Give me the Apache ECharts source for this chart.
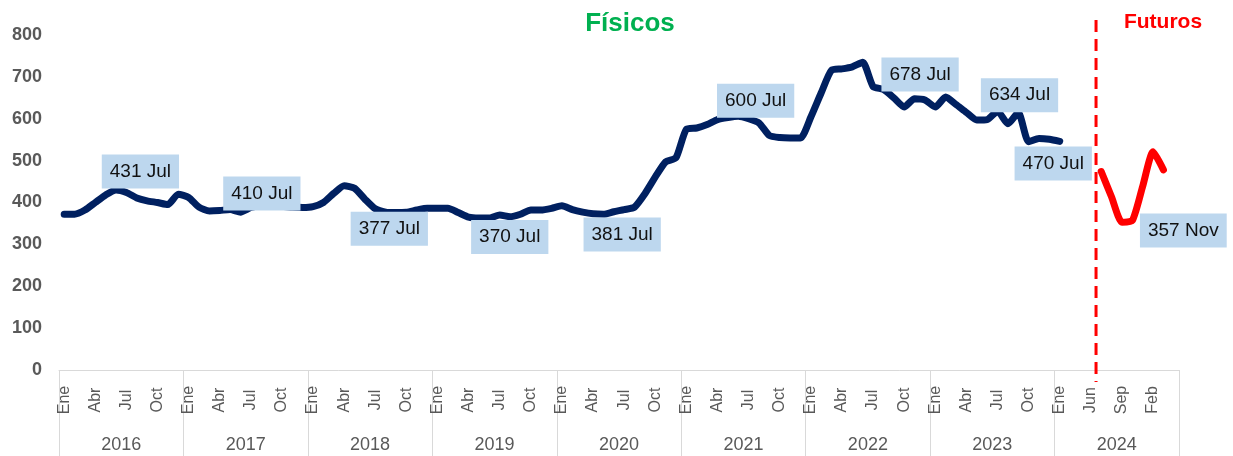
<!DOCTYPE html>
<html>
<head>
<meta charset="utf-8">
<script src="https://cdn.jsdelivr.net/npm/echarts@6/dist/echarts.min.js"></script>
<style>
  html, body { margin: 0; padding: 0; background: #fff; }
  #chart { width: 1233px; height: 456px; }
</style>
</head>
<body>
<div id="chart"></div>
<script>
const years = ["2016", "2017", "2018", "2019", "2020", "2021", "2022", "2023", "2024"];
const monthNames = ["Ene", "Feb", "Mar", "Abr", "May", "Jun", "Jul", "Ago", "Sep", "Oct", "Nov", "Dic"];
// last group mixes the physical months and the futures contracts
const months2024 = ["Ene", "Feb", "Mar", "Jun", "Jul", "Ago", "Sep", "Nov", "Dic", "Feb", "Mar", "Abr"];

// physical prices, Ene 2016 .. Ene 2024
const fisicos = [
  372, 372, 382, 400, 418, 430, 424, 411, 404, 400, 395, 420,
  412, 389, 380, 381, 383, 377, 388, 392, 392, 391, 389, 388,
  390, 400, 422, 440, 434, 408, 385, 377, 376, 377, 382, 386,
  386, 386, 376, 365, 363, 363, 370, 366, 372, 382, 382, 386,
  392, 383, 377, 373, 372, 378, 383, 389, 421, 461, 497, 507,
  575, 578, 586, 598, 603, 606, 600, 590, 560, 555, 554, 554,
  604, 662, 716, 719, 724, 735, 677, 670, 650, 628, 648, 645,
  628, 652, 634, 615, 597, 598, 618, 588, 615, 545, 553, 551,
  546
];
// futures, starting at Jul 2024 (category 100)
const futuros = [474, 413, 353, 357, 439, 521, 478];
const futurosStart = 100;

const noteIndex = [6, 18, 30, 42, 54, 66, 78, 90, 100, 103];
const noteText = ["431 Jul", "410 Jul", "377 Jul", "370 Jul", "381 Jul", "600 Jul", "678 Jul", "634 Jul", "470 Jul", "357 Nov"];

const yMax = 800;
const yStep = 100;

// ---- build ----
let categories = [];
years.slice(0, 8).forEach(() => { categories = categories.concat(monthNames); });
categories = categories.concat(months2024);

const blueData = categories.map((c, i) => (i < fisicos.length ? fisicos[i] : null));
const redData = categories.map((c, i) => {
  const k = i - futurosStart;
  return k >= 0 && k < futuros.length ? futuros[k] : null;
});

// label box offsets from their point (layout only)
const noteShift = [[14, -21], [11, -14], [14, 20], [10, 22], [-2, 25], [7, -18], [47, -12], [22, -16], [-48, -8], [51, 10]];

function notesFor(data, fromIdx, toIdx) {
  const out = [];
  noteIndex.forEach((idx, k) => {
    if (idx < fromIdx || idx >= toIdx) return;
    out.push({
      coord: [idx, data[idx]],
      label: { formatter: noteText[k], offset: noteShift[k] }
    });
  });
  return out;
}

const noteStyle = {
  symbol: "circle",
  symbolSize: 1,
  itemStyle: { color: "rgba(0,0,0,0)" },
  label: {
    show: true,
    position: "inside",
    color: "#111",
    fontSize: 19,
    lineHeight: 20,
    backgroundColor: "#BDD7EE",
    padding: [7, 8]
  }
};

const chart = echarts.init(document.getElementById("chart"));
chart.setOption({
  animation: false,
  backgroundColor: "#fff",
  textStyle: { fontFamily: "'Liberation Sans', Arial, sans-serif" },
  title: [
    {
      text: "Físicos",
      left: 625, top: 6, textAlign: "center",
      textStyle: { color: "#00B050", fontSize: 26, fontWeight: "bold" }
    },
    {
      text: "Futuros",
      left: 1158, top: 7, textAlign: "center",
      textStyle: { color: "#FF0000", fontSize: 21, fontWeight: "bold" }
    }
  ],
  grid: { left: 59, right: 54, top: 35, bottom: 86 },
  xAxis: [
    {
      type: "category",
      data: categories,
      boundaryGap: true,
      axisLine: { lineStyle: { color: "#d9d9d9", width: 1 } },
      axisTick: { show: false },
      axisLabel: {
        interval: (idx) => idx % 3 === 0,
        rotate: 90,
        align: "center",
        verticalAlign: "middle",
        margin: 30,
        fontSize: 16,
        color: "#595959"
      }
    },
    {
      // year groups: ticks at the group borders run down to the bottom
      type: "category",
      data: years,
      position: "bottom",
      boundaryGap: true,
      axisLine: { show: false },
      axisTick: {
        show: true,
        interval: 0,
        length: 86,
        lineStyle: { color: "#d9d9d9", width: 1 }
      },
      axisLabel: { margin: 66, fontSize: 18, color: "#595959" }
    }
  ],
  yAxis: {
    type: "value",
    min: 0,
    max: yMax,
    interval: yStep,
    axisLine: { show: false },
    axisTick: { show: false },
    splitLine: { show: false },
    axisLabel: { fontSize: 18, fontWeight: "bold", color: "#595959", margin: 17 }
  },
  series: [
    {
      name: "Físicos",
      type: "line",
      data: blueData,
      smooth: 0.2,
      showSymbol: false,
      lineStyle: { color: "#002060", width: 7, cap: "round", join: "round" },
      itemStyle: { color: "#002060" },
      markPoint: Object.assign({ data: notesFor(blueData, 0, futurosStart) }, noteStyle)
    },
    {
      name: "Futuros",
      type: "line",
      data: redData,
      smooth: 0.2,
      showSymbol: false,
      lineStyle: { color: "#FF0000", width: 7, cap: "round", join: "round" },
      itemStyle: { color: "#FF0000" },
      markPoint: Object.assign({ data: notesFor(redData, futurosStart, categories.length) }, noteStyle)
    }
  ]
});

// dashed separator between physical and futures, on the band boundary
const xa = chart.convertToPixel({ xAxisIndex: 0 }, futurosStart - 1);
const xb = chart.convertToPixel({ xAxisIndex: 0 }, futurosStart);
const xSep = (xa + xb) / 2;
chart.setOption({
  graphic: [{
    type: "line",
    z: 100,
    shape: { x1: xSep, y1: 20, x2: xSep, y2: 382 },
    style: { stroke: "#FF0000", lineWidth: 3, lineDash: [12, 7] }
  }]
});
</script>
</body>
</html>
